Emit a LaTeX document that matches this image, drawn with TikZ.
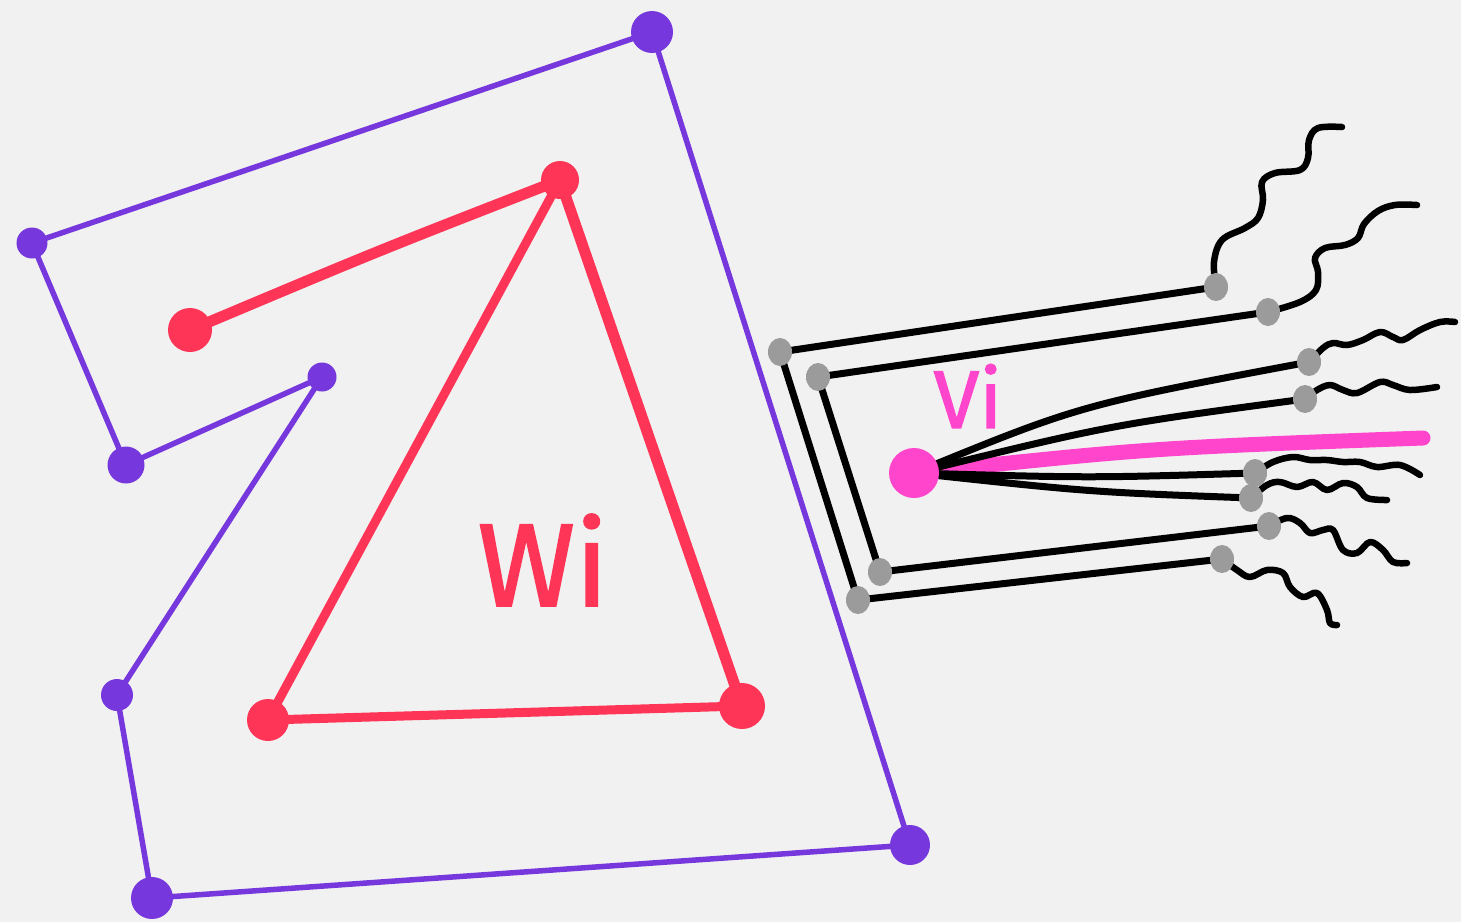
\documentclass[tikz,border=0pt]{standalone}
\usepackage{fontspec}
\setmainfont{Fira Sans}
\newfontfamily\lblfont[FakeBold=1.5]{Fira Sans}
\usetikzlibrary{shapes.geometric}
\definecolor{paper}{HTML}{F1F1F1}
\definecolor{purp}{HTML}{7638DC}
\definecolor{redc}{HTML}{FF3557}
\definecolor{mag}{HTML}{FF45CC}
\definecolor{grayd}{HTML}{9B9B9B}
\pgfdeclarelayer{fg}
\pgfsetlayers{main,fg}
\begin{document}
\begin{tikzpicture}[x=1pt,y=-1pt,
  pline/.style={purp, line width=5.5, line cap=round, line join=round},
  rline/.style={redc, line width=11, line cap=round, line join=round},
  bline/.style={black, line width=7, line cap=round, line join=round},
  mline/.style={mag, line width=15, line cap=round},
  wave/.style={bline, line width=6.5},
  pdot/.style={circle, fill=purp, inner sep=0, minimum size=#1},
  rdot/.style={circle, fill=redc, inner sep=0, minimum size=#1},
  gdot/.style={ellipse, fill=grayd, inner sep=0, minimum width=24, minimum height=28},
  mdot/.style={circle, fill=mag, inner sep=0, minimum size=#1},
  lbl/.style={inner sep=0, font=\fontsize{#1}{#1}\lblfont}
]
\fill[paper] (0,0) rectangle (1461,922);

% dots (foreground)
\begin{pgfonlayer}{fg}
\node[pdot=42] (p1) at (652,32) {};
\node[pdot=31] (p2) at (32,243) {};
\node[pdot=37] (p3) at (126,465) {};
\node[pdot=29] (p4) at (322,377) {};
\node[pdot=32] (p5) at (117,695) {};
\node[pdot=42] (p6) at (152,898) {};
\node[pdot=40] (p7) at (910,845) {};
\node[rdot=44] (r0) at (190,330) {};
\node[rdot=38] (t1) at (560,180) {};
\node[rdot=42] (t2) at (268,720) {};
\node[rdot=46] (t3) at (742,706) {};
\node[gdot] (g1) at (780,352) {};
\node[gdot] (g3) at (818,377) {};
\node[gdot] (g2) at (858,600) {};
\node[gdot] (g4) at (880,572) {};
\node[gdot] (e1) at (1216,287) {};
\node[gdot] (e2) at (1268,312) {};
\node[gdot] (e3) at (1309,362) {};
\node[gdot] (e4) at (1305,399) {};
\node[gdot] (e5) at (1255,473) {};
\node[gdot] (e6) at (1251,498) {};
\node[gdot] (e7) at (1269,526) {};
\node[gdot] (e8) at (1222,559) {};
\node[mdot=50] (v) at (914,473) {};
\end{pgfonlayer}

% purple polygon
\draw[pline] (p1.center) -- (p2.center) -- (p3.center) -- (p4.center) -- (p5.center)
  -- (p6.center) -- (p7.center) -- cycle;

% red shape
\draw[rline] (r0.center) .. controls (380,250) .. (t1.center);
\draw[rline] (t1.center) -- (t3.center);
\draw[rline, line width=9] (t3.center) -- (t2.center) -- (t1.center);
\node[lbl=118, text=redc] (wi) at (543,560) {Wi};

% black brackets
\draw[bline] (e1.center) -- (g1.center) -- (g2.center) -- (e8.center);
\draw[bline] (e2.center) -- (g3.center) -- (g4.center) -- (e7.center);

% lines from v
\draw[mline] (v.center) .. controls (1150,448) .. (1423,438) coordinate (mend);
\draw[bline] (v.center) .. controls (1080,405) .. (e3.center);
\draw[bline] (v.center) .. controls (1110,425) .. (e4.center);
\draw[bline] (v.center) .. controls (1090,478) .. (e5.center);
\draw[bline] (v.center) .. controls (1090,492) .. (e6.center);
\node[lbl=82, text=mag] (vi) at (968,396) {Vi};

% wavy ends
\draw[wave] plot[smooth, tension=0.6] coordinates {(1216,287) (1214,262) (1222,240) (1245,228)
  (1258,218) (1263,200) (1262,182) (1275,173) (1300,170) (1308,158) (1309,140) (1318,128) (1342,127)}
  coordinate (w1);
\draw[wave] plot[smooth, tension=0.6] coordinates {(1268,312) (1300,302) (1316,290) (1318,272)
  (1315,258) (1325,248) (1345,245) (1358,238) (1364,224) (1378,211) (1395,205) (1417,205)}
  coordinate (w2);
\draw[wave] plot[smooth, tension=0.6] coordinates {(1309,362) (1323,348) (1333,343) (1347,345)
  (1363,340) (1380,332) (1393,337) (1403,340) (1420,330) (1440,322) (1455,322)} coordinate (w3);
\draw[wave] plot[smooth, tension=0.6] coordinates {(1305,399) (1317,390) (1330,385) (1343,390)
  (1357,393) (1380,382) (1393,385) (1410,390) (1437,387)} coordinate (w4);
\draw[wave] plot[smooth, tension=0.6] coordinates {(1255,473) (1273,462) (1293,457) (1310,460)
  (1327,460) (1343,462) (1360,462) (1377,467) (1400,465) (1420,475)} coordinate (w5);
\draw[wave] plot[smooth, tension=0.6] coordinates {(1251,498) (1267,485) (1280,482) (1297,487)
  (1313,482) (1327,490) (1343,483) (1357,487) (1367,498) (1387,500)} coordinate (w6);
\draw[wave] plot[smooth, tension=0.6] coordinates {(1269,526) (1287,518) (1300,523) (1310,533)
  (1323,530) (1333,530) (1343,550) (1357,553) (1370,542) (1383,550) (1393,562) (1407,563)}
  coordinate (w7);
\draw[wave] plot[smooth, tension=0.6] coordinates {(1222,559) (1237,570) (1250,577) (1267,570)
  (1283,573) (1290,587) (1303,597) (1317,593) (1327,610) (1330,623) (1337,625)} coordinate (w8);
\end{tikzpicture}
\end{document}
